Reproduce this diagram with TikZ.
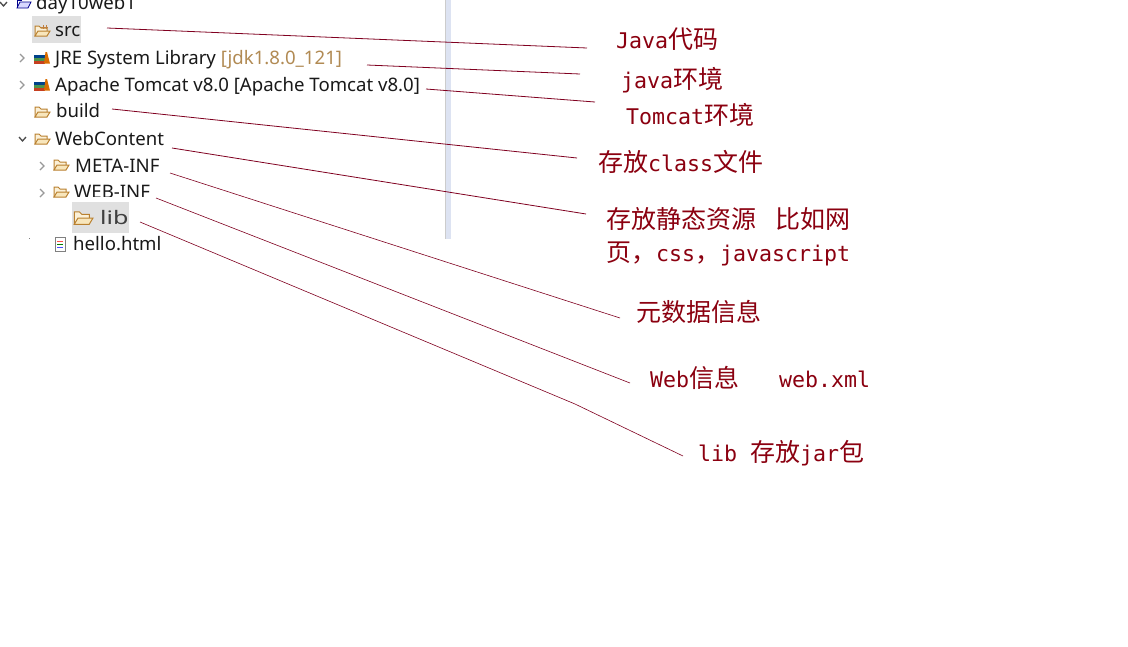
\documentclass[tikz,border=0pt]{standalone}
\usepackage{fontspec}
\setmainfont{Noto Sans}
\newfontfamily\zhfont{Noto Sans CJK SC}
\newfontfamily\labelfont{DejaVu Sans Mono}
\newfontfamily\libfont[FakeStretch=1.35]{Noto Sans}
\newcommand{\zh}[1]{{\zhfont\fontsize{25pt}{33pt}\selectfont #1}}
\usepackage{xcolor}
\usepackage{tikz}
\definecolor{leadred}{HTML}{800020}
\definecolor{notered}{HTML}{8B0010}
\definecolor{folderedge}{HTML}{B9802F}
\definecolor{folderfill}{HTML}{F8E6BC}
\definecolor{dividerblue}{HTML}{DDE3F2}

\begin{document}
\begin{tikzpicture}[
        x=1pt, y=-1pt,
        item/.style={anchor=base west, inner sep=0pt, font=\fontsize{18.6pt}{20pt}\selectfont, text=black!90},
        note/.style={anchor=west, inner sep=0pt, text=notered, align=left, font=\labelfont\fontsize{21.6pt}{33pt}\selectfont},
        leader/.style={draw=leadred, line width=0.8pt},
        picked/.style={fill=black!12, draw=none},
        opened/.style={draw=black!70, line width=1.3pt},
        closed/.style={draw=black!40, line width=1.3pt},
        folder/.pic={
            \draw[draw=folderedge, fill=folderfill!60, line width=1pt] (-7,5) -- (-7,-5) -- (-3,-5) -- (-1,-3) -- (5,-3) -- (5,0);
            \draw[draw=folderedge, fill=folderfill, line width=1pt] (-7,5) -- (-4,0) -- (8,0) -- (5,5) -- cycle;
        },
        books/.pic={
            \fill[blue!35!teal!80!black] (-7,-3) rectangle (4,0);
            \fill[green!40!black!70] (-7,0) rectangle (4,2.5);
            \fill[red!45!brown!90!black] (-7,2.5) rectangle (4,5.5);
            \fill[orange!85!black] (3,5.5) -- (4.5,-6) -- (6,-6) -- (9,5.5) -- (6,5.5) -- cycle;
        },
        page/.pic={
            \draw[draw=black!50, fill=white, line width=0.7pt] (-5,-7) rectangle (5,7);
            \draw[draw=red!70, line width=1pt] (-3,-3) -- (3,-3);
            \draw[draw=green!50!black, line width=1pt] (-3,0) -- (3,0);
            \draw[draw=blue!70, line width=1pt] (-3,3) -- (3,3);
        }
    ]
        \useasboundingbox (0,0) rectangle (1128,646);
        \fill[white] (0,0) rectangle (1128,646);

        % Divider
        \fill[dividerblue] (445,0) rectangle (451,239);
        \draw[black!20] (445,0) -- (445,239);

        % Selected rows
        \fill[picked] (32,16) rectangle (81,43);

        % Tree
        \node[item] (project) at (36,9) {day10web1};
        \node[item] (src) at (55,36.5) {src};
        \node[item] (jre) at (55,64) {JRE System Library \textcolor{folderedge!85!black!80}{[jdk1.8.0\_121]}};
        \node[item] (tomcat) at (55,91) {Apache Tomcat v8.0 [Apache Tomcat v8.0]};
        \node[item] (build) at (56,117) {build};
        \node[item] (webcontent) at (55,145) {WebContent};
        \node[item] (metainf) at (75,172) {META-INF};
        \node[item] (webinf) at (74,198.5) {WEB-INF};
        \fill[white] (72,197) rectangle (152,203);
        \fill[picked] (72,202) rectangle (129,233);
        \node[item, font=\libfont\fontsize{18.6pt}{20pt}\selectfont, text=black!75] (lib) at (100,224) {lib};
        \node[item] (hello) at (73,250) {hello.html};

        % Icons
        \draw[draw=blue!55!black, fill=blue!15, line width=0.8pt] (17,8) -- (20,2) -- (31,2) -- (28,8) -- cycle;
        \draw[draw=blue!55!black, line width=0.8pt] (17,8) -- (17,0) -- (22,0);
        \pic at (42,31) {folder};
        \draw[draw=brown, line width=0.7pt] (43,25) -- (43,29) (41,27) -- (48,27) (46,25) -- (46,29);
        \pic at (41,58) {books};
        \pic at (41,85) {books};
        \pic at (42,112) {folder};
        \pic at (42,139) {folder};
        \pic at (61,165) {folder};
        \pic at (61,192) {folder};
        \pic[scale=1.25] at (83,218) {folder};
        \pic at (60,244) {page};
        \fill[black!50] (29,238) rectangle (30,239);

        % Expanders
        \draw[opened] (0,2) -- (3.5,6) -- (7,2);
        \draw[closed] (20,54) -- (24,58) -- (20,62);
        \draw[closed] (20,81) -- (24,85) -- (20,89);
        \draw[opened] (19,137) -- (22.5,141) -- (26,137);
        \draw[closed] (40,162) -- (44,166) -- (40,170);
        \draw[closed] (40,189) -- (44,193) -- (40,197);

        % Notes
        \node[note] (javacode) at (616,39) {Java\zh{代码}};
        \node[note] (javaenv) at (621,80) {java\zh{环境}};
        \node[note] (tomcatenv) at (626,115) {Tomcat\zh{环境}};
        \node[note] (classfiles) at (598,162) {\zh{存放}class\zh{文件}};
        \node[note, anchor=north west] (statics) at (606,207) {\zh{存放静态资源}\hspace{19pt}\zh{比如网}\\\zh{页，}css\zh{，}javascript};
        \node[note] (metadata) at (636,312) {\zh{元数据信息}};
        \node[note] (webinfo) at (650,378) {Web\zh{信息}\hspace{40pt}web.xml};
        \node[note] (libjars) at (698,453) {lib \zh{存放}jar\zh{包}};

        % Leaders
        \draw[leader] ([shift={(52,-8.5)}]src.base west) -- ([shift={(-29,9)}]javacode.west);
        \draw[leader] ([shift={(312,1)}]jre.base west) -- ([shift={(-41,-6)}]javaenv.west);
        \draw[leader] ([shift={(371,-2)}]tomcat.base west) -- ([shift={(-31,-13)}]tomcatenv.west);
        \draw[leader] ([shift={(56,-8)}]build.base west) -- ([shift={(-21,-4)}]classfiles.west);
        \draw[leader] ([shift={(117,3)}]webcontent.base west) -- ([shift={(-20,7)}]statics.north west);
        \draw[leader, line width=0.6pt] ([shift={(95,1)}]metainf.base west) -- ([shift={(-16,6)}]metadata.west);
        \draw[leader, line width=0.6pt] ([shift={(82,-0.5)}]webinf.base west) -- ([shift={(-20,5)}]webinfo.west);
        \draw[leader, line width=0.6pt] ([shift={(40,-2)}]lib.base west) -- (575,404) -- ([shift={(-15,3)}]libjars.west);
    \end{tikzpicture}
\end{document}
